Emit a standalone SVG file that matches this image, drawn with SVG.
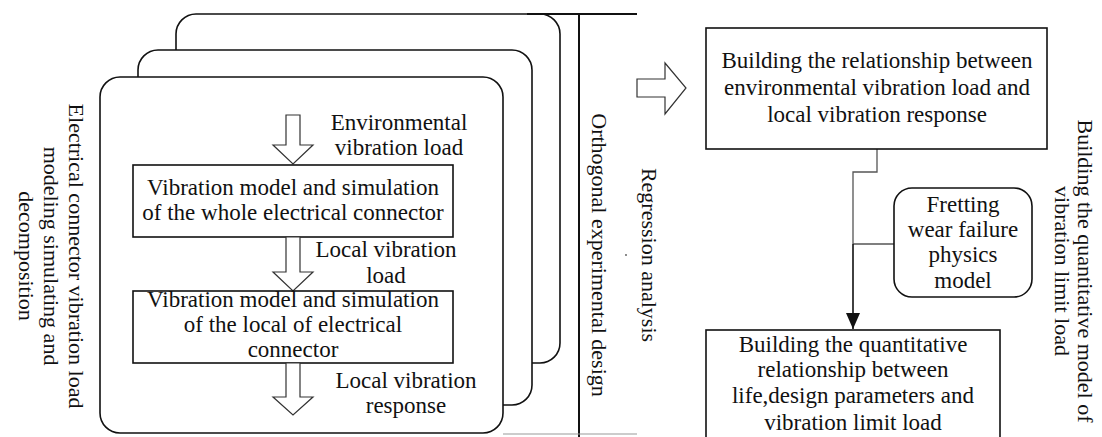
<svg xmlns="http://www.w3.org/2000/svg" width="1102" height="437" viewBox="0 0 1102 437">
<style>
text{font-family:"Liberation Serif","Times New Roman",serif;font-size:23px;fill:#111}
.v{font-size:22px}
.stack{fill:#fff;stroke:#111;stroke-width:1.6}
.box{fill:#fff;stroke:#111;stroke-width:1.6}
.hollow{fill:#fff;stroke:#333;stroke-width:1.2}
.gl{fill:none;stroke:#555;stroke-width:1.3}
.bl{fill:none;stroke:#111;stroke-width:1.6}
</style>
<defs>
<marker id="ah" markerWidth="16" markerHeight="14" refX="16" refY="7" orient="auto" markerUnits="userSpaceOnUse" viewBox="0 0 16 14">
<path d="M0,0 L16,7 L0,14 Z" fill="#111"/>
</marker>
</defs>
<rect width="1102" height="437" fill="#fff"/>

<g id="stack">
<rect class="stack" x="176" y="14" width="384" height="349" rx="20"/>
<rect class="stack" x="138" y="50" width="394" height="355" rx="20"/>
<rect class="stack" x="100" y="77" width="403" height="356" rx="20"/>
</g>

<g id="bars">
<line x1="527" y1="14" x2="637" y2="14" stroke="#111" stroke-width="2"/>
<line x1="579" y1="14" x2="579" y2="437" stroke="#111" stroke-width="2"/>
<line x1="503" y1="434" x2="637" y2="434" stroke="#999" stroke-width="1.2"/>
<circle cx="626" cy="255" r="0.9" fill="#555"/>
</g>

<g id="label-left">
<text class="v" transform="translate(69,256) rotate(90)" text-anchor="middle"><tspan x="0" dy="0">Electrical connector vibration load</tspan><tspan x="0" dy="25">modeling simulating and</tspan><tspan x="0" dy="25">decomposition</tspan></text>
</g>

<g id="arrow-in">
<path class="hollow" d="M286,115 H300 V145 H313 L293,164 L273,145 H286 Z"/>
</g>
<g id="label-env">
<text text-anchor="middle" x="399" y="130">Environmental</text>
<text text-anchor="middle" x="399" y="155">vibration load</text>
</g>

<g id="box-whole">
<rect class="box" x="133" y="165" width="320" height="72"/>
<text text-anchor="middle" x="293" y="195">Vibration model and simulation</text>
<text text-anchor="middle" x="293" y="220">of the whole electrical connector</text>
</g>

<g id="arrow-mid">
<path class="hollow" d="M286,237 H300 V272 H313 L293,291 L273,272 H286 Z"/>
</g>
<g id="label-local-load">
<text text-anchor="middle" x="386" y="257">Local vibration</text>
<text text-anchor="middle" x="386" y="283">load</text>
</g>

<g id="box-local">
<rect class="box" x="133" y="291" width="320" height="72"/>
<text text-anchor="middle" x="293" y="307">Vibration model and simulation</text>
<text text-anchor="middle" x="293" y="332">of the local of electrical</text>
<text text-anchor="middle" x="293" y="357">connector</text>
</g>

<g id="arrow-out">
<path class="hollow" d="M286,363 H300 V397 H313 L293,415 L273,397 H286 Z"/>
</g>
<g id="label-local-resp">
<text text-anchor="middle" x="406" y="388">Local vibration</text>
<text text-anchor="middle" x="406" y="413">response</text>
</g>

<g id="label-orthogonal">
<text class="v" transform="translate(592,255) rotate(90)" text-anchor="middle">Orthogonal experimental design</text>
</g>
<g id="label-regression">
<text class="v" transform="translate(642,255) rotate(90)" text-anchor="middle">Regression analysis</text>
</g>

<g id="arrow-right">
<path class="hollow" d="M637,79 H665 V63 L686,88 L665,114 V97 H637 Z"/>
</g>

<g id="connectors">
<path class="gl" d="M877,149 V172 H853 V244"/>
<path class="gl" d="M894,244 H853"/>
<path class="bl" d="M853,244 V329" marker-end="url(#ah)"/>
</g>

<g id="box-relationship">
<rect class="box" x="706" y="28" width="341" height="121"/>
<text text-anchor="middle" x="877" y="68">Building the relationship between</text>
<text text-anchor="middle" x="877" y="95">environmental vibration load and</text>
<text text-anchor="middle" x="877" y="122">local vibration response</text>
</g>

<g id="box-fretting">
<rect class="box" x="894" y="188" width="138" height="109" rx="18"/>
<text text-anchor="middle" x="963" y="212">Fretting</text>
<text text-anchor="middle" x="963" y="237">wear failure</text>
<text text-anchor="middle" x="963" y="262">physics</text>
<text text-anchor="middle" x="963" y="288">model</text>
</g>

<g id="box-quantitative">
<rect class="box" x="706" y="330" width="294" height="130"/>
<text text-anchor="middle" x="853" y="352">Building the quantitative</text>
<text text-anchor="middle" x="853" y="377">relationship between</text>
<text text-anchor="middle" x="853" y="403">life,design parameters and</text>
<text text-anchor="middle" x="853" y="430">vibration limit load</text>
</g>

<g id="label-right">
<text class="v" transform="translate(1078,271) rotate(90)" text-anchor="middle"><tspan x="0" dy="0">Building the quantitative model of</tspan><tspan x="0" dy="23">vibration limit load</tspan></text>
</g>
</svg>
